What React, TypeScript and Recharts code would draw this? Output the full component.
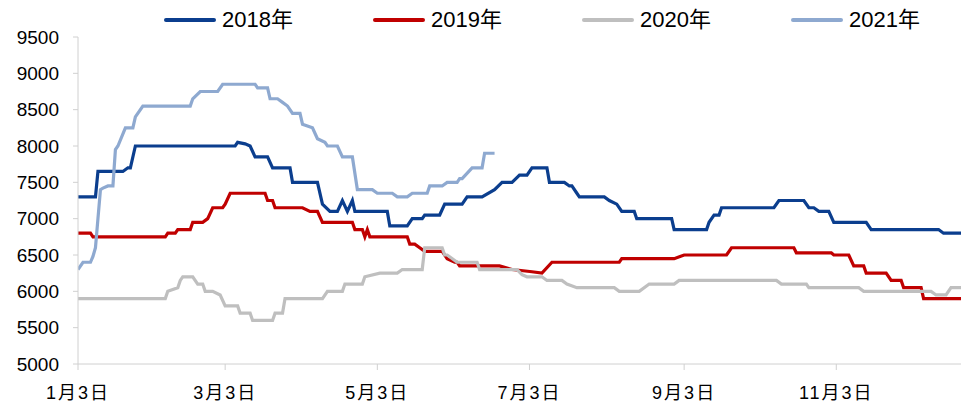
import { CartesianGrid, Line, LineChart, XAxis, YAxis } from "recharts";

// x = day of year (1月3日 = 3)
const days2018 = [3, 10, 11, 21, 23, 24, 26, 66, 67, 70, 72, 74, 79, 81, 88, 89, 99, 101, 104, 107, 109, 111, 113, 114, 127, 128, 135, 137, 141, 142, 148, 150, 157, 159, 165, 170, 173, 177, 180, 183, 185, 191, 192, 198, 200, 201, 203, 204, 214, 216, 219, 221, 226, 227, 241, 242, 255, 256, 258, 260, 261, 282, 284, 294, 296, 298, 300, 304, 306, 319, 321, 348, 350, 357];
const price2018 = [7300, 7300, 7650, 7650, 7700, 7700, 8000, 8000, 8050, 8030, 8000, 7850, 7850, 7700, 7700, 7500, 7500, 7200, 7100, 7100, 7250, 7100, 7250, 7100, 7100, 6900, 6900, 7000, 7000, 7050, 7050, 7200, 7200, 7300, 7300, 7400, 7500, 7500, 7600, 7600, 7700, 7700, 7500, 7500, 7450, 7450, 7350, 7300, 7300, 7250, 7200, 7100, 7100, 7000, 7000, 6850, 6850, 6950, 7050, 7050, 7150, 7150, 7250, 7250, 7150, 7150, 7100, 7100, 6950, 6950, 6850, 6850, 6800, 6800];

const days2019 = [3, 8, 9, 38, 39, 42, 43, 48, 49, 53, 55, 57, 61, 62, 64, 78, 79, 81, 82, 93, 96, 99, 101, 113, 114, 117, 118, 119, 120, 135, 136, 138, 140, 142, 149, 151, 154, 155, 156, 172, 177, 185, 189, 193, 220, 221, 242, 246, 263, 265, 290, 291, 305, 306, 312, 314, 318, 319, 327, 329, 333, 334, 341, 342, 357];
const price2019 = [6800, 6800, 6750, 6750, 6800, 6800, 6850, 6850, 6950, 6950, 7000, 7150, 7150, 7200, 7350, 7350, 7250, 7250, 7150, 7150, 7100, 7100, 6950, 6950, 6850, 6850, 6750, 6850, 6750, 6750, 6650, 6650, 6600, 6550, 6550, 6450, 6400, 6400, 6350, 6350, 6300, 6270, 6250, 6400, 6400, 6450, 6450, 6500, 6500, 6600, 6600, 6530, 6530, 6500, 6500, 6350, 6350, 6250, 6250, 6150, 6150, 6050, 6050, 5900, 5900];

const days2020 = [3, 38, 39, 43, 44, 45, 49, 51, 53, 54, 57, 60, 62, 67, 68, 72, 73, 81, 82, 85, 86, 101, 103, 109, 110, 117, 118, 124, 131, 133, 141, 142, 149, 150, 151, 155, 163, 164, 179, 181, 183, 189, 191, 197, 199, 203, 218, 220, 228, 232, 242, 244, 283, 285, 295, 296, 316, 318, 345, 347, 351, 353, 357];
const price2020 = [5900, 5900, 6000, 6050, 6150, 6200, 6200, 6100, 6100, 6000, 6000, 5950, 5800, 5800, 5700, 5700, 5600, 5600, 5700, 5700, 5900, 5900, 6000, 6000, 6100, 6100, 6200, 6250, 6250, 6300, 6300, 6600, 6600, 6500, 6500, 6400, 6400, 6300, 6300, 6230, 6200, 6200, 6150, 6150, 6100, 6050, 6050, 6000, 6000, 6100, 6100, 6150, 6150, 6100, 6100, 6050, 6050, 6000, 6000, 5950, 5950, 6050, 6050];

const days2021 = [3, 5, 8, 9, 10, 11, 12, 13, 15, 17, 18, 19, 22, 25, 26, 29, 48, 49, 52, 59, 61, 74, 75, 79, 80, 83, 85, 87, 89, 92, 93, 97, 99, 102, 103, 107, 109, 113, 115, 121, 123, 129, 131, 135, 137, 143, 144, 149, 151, 155, 156, 157, 161, 165, 166, 170];
const price2021 = [6300, 6400, 6400, 6480, 6600, 7000, 7400, 7420, 7450, 7450, 7950, 8000, 8250, 8250, 8400, 8550, 8550, 8650, 8750, 8750, 8850, 8850, 8800, 8800, 8650, 8650, 8600, 8550, 8450, 8450, 8300, 8250, 8100, 8050, 8000, 8000, 7850, 7850, 7400, 7400, 7350, 7350, 7300, 7300, 7350, 7350, 7450, 7450, 7500, 7500, 7550, 7550, 7700, 7700, 7900, 7900];

const seriesNames = ["2018年", "2019年", "2020年", "2021年"];
const seriesColors = ["#0B3E8E", "#C00000", "#BFBFBF", "#8EA9D0"];

const tickDays = [3, 62, 123, 184, 246, 307];
const tickLabels = ["1月3日", "3月3日", "5月3日", "7月3日", "9月3日", "11月3日"];
const yTicks = [5000, 5500, 6000, 6500, 7000, 7500, 8000, 8500, 9000, 9500];

const zip = (days: number[], vals: number[]) => days.map((day, i) => ({ day, v: vals[i] }));

const series = [
  zip(days2018, price2018),
  zip(days2019, price2019),
  zip(days2020, price2020),
  zip(days2021, price2021),
];

const axisGray = "#D0D0D0";

export default function App() {
  return (
    <div style={{ position: "absolute", left: 0, top: 0, width: 961, height: 407, background: "#fff" }}>
      <div
        style={{
          position: "absolute",
          left: 164,
          top: 6,
          display: "flex",
          fontFamily: "'Liberation Sans', 'Noto Sans CJK SC', sans-serif",
          fontSize: 22,
          lineHeight: "28px",
          color: "#000",
        }}
      >
        {seriesNames.map((name, i) => (
          <div key={name} style={{ width: 209, display: "flex", alignItems: "center" }}>
            <span style={{ display: "inline-block", width: 52, height: 4, borderRadius: 2, background: seriesColors[i], marginRight: 6 }} />
            <span>{name}</span>
          </div>
        ))}
      </div>
      <LineChart width={961} height={407} margin={{ top: 37, right: 0, bottom: 0, left: 0 }}>
        <CartesianGrid horizontal={false} vertical={false} />
        <XAxis
          type="number"
          dataKey="day"
          domain={[3, 357]}
          ticks={tickDays}
          tickFormatter={(d: number) => tickLabels[tickDays.indexOf(d)]}
          allowDataOverflow
          height={43}
          tickSize={6}
          tickMargin={16}
          stroke={axisGray}
          tick={{ fill: "#000", fontSize: 18, fontFamily: "'Liberation Sans', 'Noto Sans CJK SC', sans-serif", letterSpacing: 2 }}
        />
        <YAxis
          type="number"
          domain={[5000, 9500]}
          ticks={yTicks}
          width={78}
          tickSize={5}
          tickMargin={14}
          stroke={axisGray}
          tick={{ fill: "#000", fontSize: 19, fontFamily: "'Liberation Sans', sans-serif" }}
        />
        {series.map((data, i) => (
          <Line
            key={seriesNames[i]}
            data={data}
            dataKey="v"
            name={seriesNames[i]}
            type="linear"
            stroke={seriesColors[i]}
            strokeWidth={3.2}
            dot={false}
            activeDot={false}
            isAnimationActive={false}
          />
        ))}
      </LineChart>
    </div>
  );
}
